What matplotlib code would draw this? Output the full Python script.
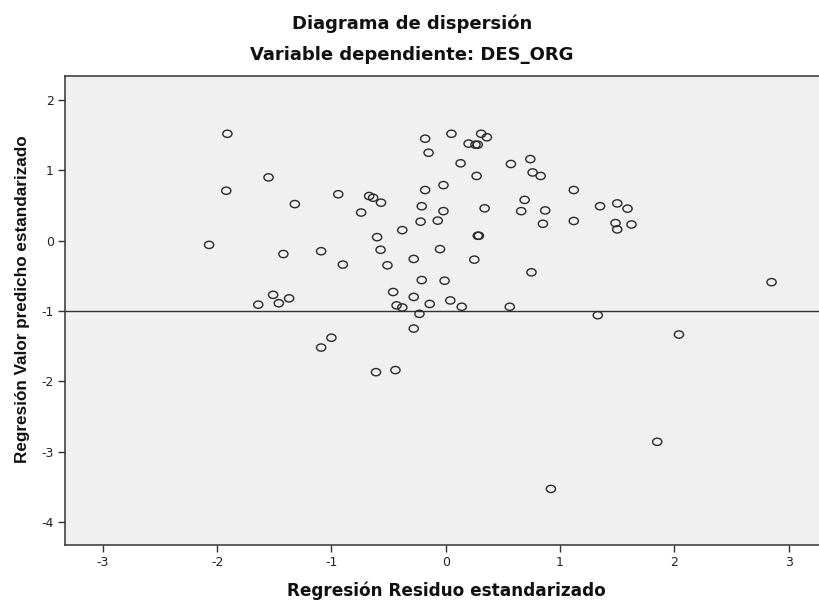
import matplotlib
matplotlib.use("Agg")
import matplotlib.pyplot as plt
from matplotlib.path import Path
from matplotlib.transforms import Affine2D

# standardized residual (x) and standardized predicted value (y)
resid = [-1.91, -0.18, -0.15, -1.55, -1.92, -0.94, -0.67, -0.635, -0.566, -0.18,
         -1.32, -0.74, -0.21, -0.22, -0.38, -0.60, -2.07, -0.57, -1.42, -1.09,
         -0.90, -0.51, -0.28, -0.21, -1.51, -1.37, -1.64, -1.46, -0.46, -0.28,
         -0.43, -0.38, -0.14, -0.23, -0.28,
         0.05, 0.31, 0.36, 0.20, 0.26, 0.28, 0.13, 0.27, 0.57, 0.74,
         0.76, 0.83, -0.02, -0.02, -0.07, 0.34, 1.12, 0.69, 0.66, 0.87,
         0.85, 1.12, 1.35, 1.50, 1.59, 1.485, 1.50, 1.625, 0.28, 0.29,
         -0.05, 0.25, 0.75, 2.85, -0.01, 0.04, 0.14, 0.56, 1.33,
         -1.09, -1.00, -0.61, -0.44, 2.04, 1.85, 0.92]
pred = [1.52, 1.45, 1.25, 0.90, 0.71, 0.66, 0.635, 0.61, 0.54, 0.72,
        0.52, 0.40, 0.49, 0.27, 0.15, 0.05, -0.06, -0.13, -0.19, -0.15,
        -0.34, -0.35, -0.26, -0.56, -0.77, -0.82, -0.91, -0.89, -0.73, -0.80,
        -0.92, -0.95, -0.90, -1.04, -1.25,
        1.52, 1.52, 1.47, 1.38, 1.365, 1.365, 1.10, 0.92, 1.09, 1.16,
        0.97, 0.92, 0.79, 0.42, 0.285, 0.46, 0.72, 0.58, 0.42, 0.43,
        0.24, 0.28, 0.49, 0.53, 0.455, 0.25, 0.16, 0.23, 0.07, 0.07,
        -0.12, -0.27, -0.45, -0.59, -0.57, -0.85, -0.94, -0.94, -1.06,
        -1.52, -1.38, -1.87, -1.84, -1.335, -2.86, -3.53]

xticks = [-3, -2, -1, 0, 1, 2, 3]
yticks = [2, 1, 0, -1, -2, -3, -4]
ref_y = -1

# the source picture is a bit stretched sideways: wide font for horizontal text, oval markers
wide = ['DejaVu Sans']
narrow = ['Liberation Sans', 'DejaVu Sans']
plt.rcParams['font.family'] = wide

oval = Affine2D().scale(1.27, 1.0).transform_path(Path.unit_circle())

fig = plt.figure(figsize=(8.19, 6.0), dpi=100)
ax = fig.add_axes([0.0794, 0.0917, 0.9255, 0.7817])
ax.set_facecolor('#f0f0f0')

ax.scatter(resid, pred, s=44, marker=oval, facecolors='none', edgecolors='#2a2a2a',
           linewidths=1.0, zorder=3)
ax.axhline(ref_y, color='#333333', lw=1.0, zorder=2)

ax.set_xlim(-3.33, 3.30)
ax.set_ylim(-4.327, 2.342)
ax.set_xticks(xticks)
ax.set_yticks(yticks)
ax.set_xticklabels([str(v) for v in xticks])
ax.set_yticklabels([str(v) for v in yticks])
ax.tick_params(direction='out', length=5, width=1, color='#333333',
               labelsize=9, labelcolor='#222222', pad=3)
for sp in ax.spines.values():
    sp.set_color('#333333')
    sp.set_linewidth(1.1)

fig.text(412 / 819, 1 - 23.5 / 600, 'Diagrama de dispersión', ha='center', va='center',
         fontsize=13, fontweight='bold', color='#111111')
fig.text(412 / 819, 1 - 55 / 600, 'Variable dependiente: DES_ORG', ha='center', va='center',
         fontsize=13, fontweight='bold', color='#111111')
fig.text(446 / 819, 1 - 591 / 600, 'Regresión Residuo estandarizado', ha='center', va='center',
         fontsize=12.2, fontweight='bold', color='#111111')
fig.text(23 / 819, 1 - 299 / 600, 'Regresión Valor predicho estandarizado', ha='center', va='center',
         rotation=90, fontsize=12.3, fontweight='bold', color='#111111', family=narrow)

fig.savefig('out.png', dpi=100)
